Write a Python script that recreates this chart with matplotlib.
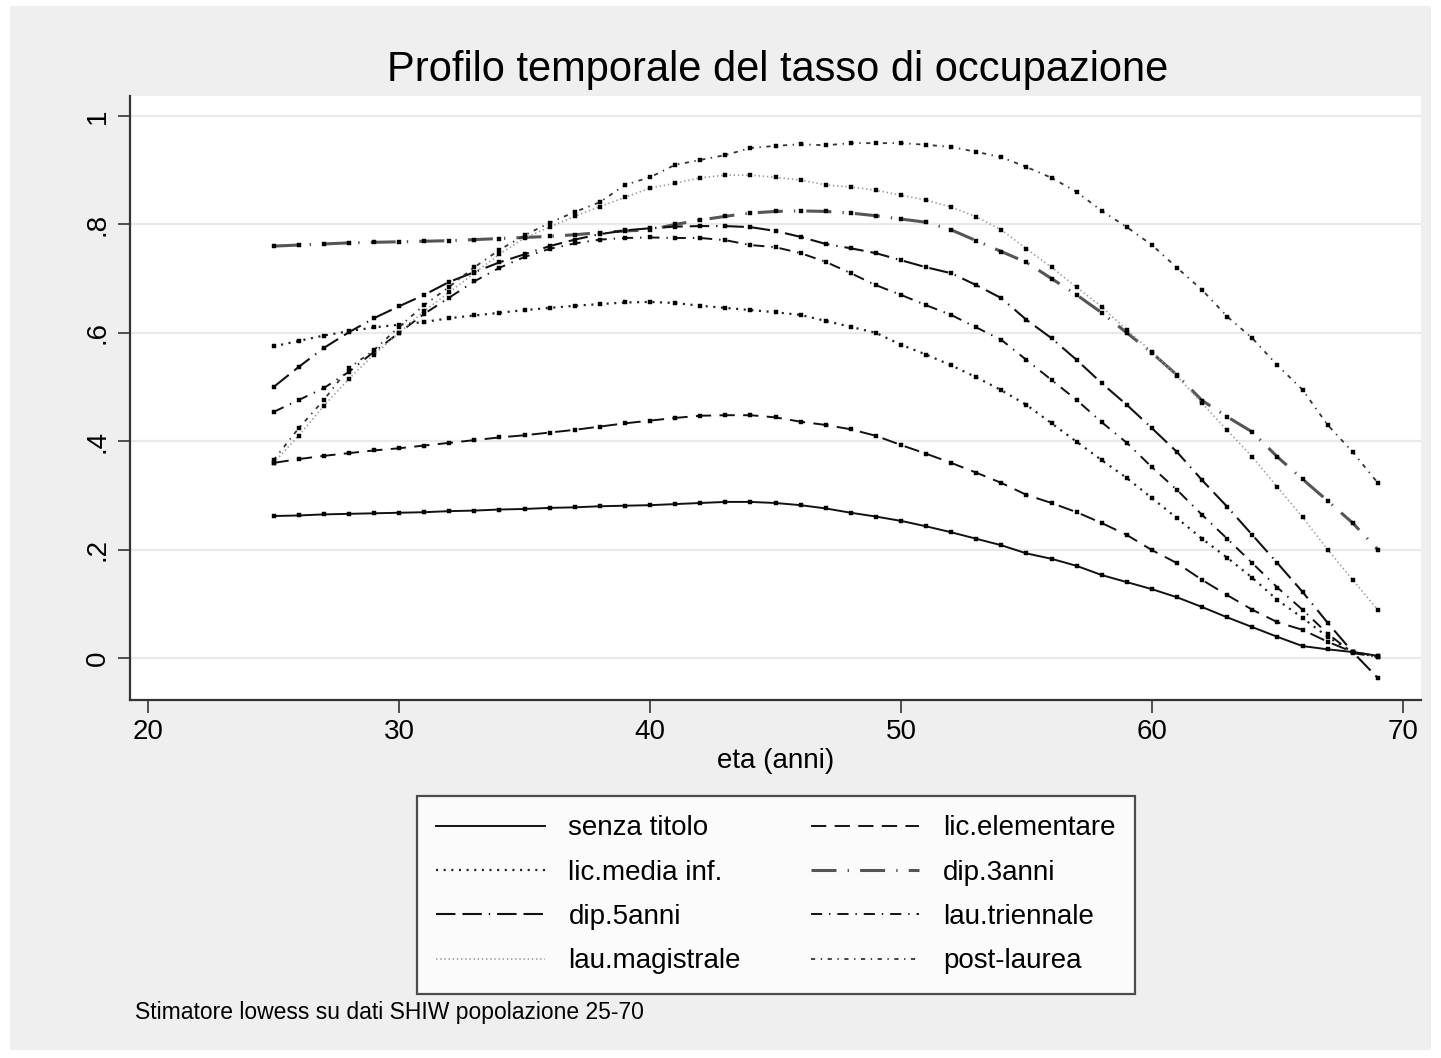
import matplotlib
matplotlib.use("Agg")
import matplotlib.pyplot as plt
from matplotlib.lines import Line2D
from matplotlib.patches import Rectangle

plt.rcParams['font.family'] = ['Liberation Sans', 'DejaVu Sans']
plt.rcParams['lines.scale_dashes'] = False

# eta (anni)
ages = list(range(25, 70))

senza_titolo = [.262, .263, .265, .266, .267, .268, .269, .271, .272, .274, .275, .277, .278, .280, .281,
                .282, .284, .286, .288, .288, .286, .282, .276, .268, .261, .253, .243, .232, .220, .208,
                .193, .183, .170, .153, .140, .127, .112, .094, .075, .057, .039, .022, .016, .011, .004]
lic_elementare = [.360, .367, .373, .378, .383, .387, .392, .397, .402, .407, .411, .416, .421, .427, .433,
                  .438, .443, .447, .448, .448, .444, .436, .430, .422, .410, .393, .377, .360, .342, .323,
                  .301, .286, .269, .249, .227, .199, .175, .144, .116, .089, .066, .052, .030, .011, .004]
lic_media = [.575, .585, .595, .603, .610, .615, .620, .627, .632, .637, .642, .646, .650, .653, .656,
             .657, .655, .650, .646, .642, .638, .633, .622, .611, .600, .578, .560, .540, .518, .494,
             .467, .433, .399, .365, .332, .295, .258, .220, .185, .148, .107, .074, .039, .011, .002]
dip_3anni = [.760, .762, .764, .766, .767, .768, .769, .770, .772, .774, .776, .778, .781, .785, .788,
             .790, .800, .808, .815, .821, .824, .825, .824, .821, .816, .810, .804, .790, .770, .750,
             .730, .700, .670, .637, .600, .563, .522, .475, .445, .417, .371, .330, .290, .249, .200]
dip_5anni = [.500, .537, .572, .601, .627, .649, .670, .694, .712, .730, .745, .760, .772, .782, .789,
             .793, .796, .797, .797, .795, .788, .777, .764, .756, .747, .734, .721, .710, .688, .664,
             .624, .590, .550, .507, .467, .424, .380, .328, .279, .227, .175, .122, .065, .011, -.037]
lau_triennale = [.454, .476, .498, .528, .565, .600, .635, .665, .695, .720, .740, .755, .765, .772, .775,
                 .776, .775, .775, .771, .762, .758, .747, .731, .710, .688, .670, .651, .633, .610, .587,
                 .550, .513, .476, .435, .397, .352, .310, .264, .220, .175, .130, .089, .045, .009, .002]
lau_magistrale = [.360, .410, .465, .515, .560, .600, .640, .675, .710, .745, .775, .795, .815, .833, .850,
                  .867, .876, .886, .891, .891, .887, .882, .873, .869, .863, .854, .845, .832, .814, .790,
                  .755, .721, .684, .648, .605, .565, .520, .470, .420, .371, .315, .260, .200, .144, .089]
post_laurea = [.365, .424, .476, .535, .568, .611, .651, .685, .721, .753, .780, .803, .823, .841, .873,
               .887, .910, .919, .928, .941, .945, .948, .946, .950, .950, .950, .947, .943, .934, .924,
               .906, .886, .860, .825, .795, .762, .720, .679, .630, .590, .540, .495, .430, .380, .323]

labels = ["senza titolo", "lic.elementare", "lic.media inf.", "dip.3anni",
          "dip.5anni", "lau.triennale", "lau.magistrale", "post-laurea"]
series = [senza_titolo, lic_elementare, lic_media, dip_3anni,
          dip_5anni, lau_triennale, lau_magistrale, post_laurea]

# line looks (Stata mono scheme)
styles = [
    dict(color="#111111", ls="-", lw=1.4),
    dict(color="#111111", ls=(0, (11, 6)), lw=1.4),
    dict(color="#222222", ls=(0, (1.5, 4)), lw=1.6),
    dict(color="#555555", ls=(0, (18, 8, 1, 8)), lw=2.2),
    dict(color="#111111", ls=(0, (14, 5, 14, 5, 1, 5)), lw=1.5),
    dict(color="#111111", ls=(0, (8, 5, 1, 5)), lw=1.4),
    dict(color="#999999", ls=(0, (1, 2)), lw=1.2),
    dict(color="#333333", ls=(0, (3, 4, 1, 4)), lw=1.3),
]

W, H = 1441, 1058
fig = plt.figure(figsize=(W / 100, H / 100), dpi=100, facecolor="white")
fig.patches.append(Rectangle((10 / W, 8 / H), 1 - 20 / W, 1 - 14 / H, transform=fig.transFigure,
                             facecolor="#efefef", edgecolor="none", zorder=-10))

ax = fig.add_axes([130 / W, 1 - 700 / H, (1421 - 130) / W, (700 - 96) / H])
ax.set_facecolor("white")

for vals, st in zip(series, styles):
    ax.plot(ages, vals, color=st["color"], linestyle=st["ls"], linewidth=st["lw"],
            marker="s", markersize=2.2, markerfacecolor="black", markeredgecolor="black",
            markeredgewidth=0.3)

ax.set_xlim(19.28, 70.72)
ax.set_ylim(-0.0775, 1.037)
ax.set_xticks([20, 30, 40, 50, 60, 70])
ax.set_yticks([0, .2, .4, .6, .8, 1])
ax.set_yticklabels(["0", ".2", ".4", ".6", ".8", "1"], rotation=90, va="center")
ax.tick_params(axis="both", labelsize=20, length=9, width=1.2, color="#333333", pad=5)
ax.grid(axis="y", color="#e9e9e9", linewidth=1.6)
ax.set_axisbelow(True)
for s in ["top", "right"]:
    ax.spines[s].set_visible(False)
for s in ["left", "bottom"]:
    ax.spines[s].set_color("#333333")
    ax.spines[s].set_linewidth(1.6)

ax.set_xlabel("eta (anni)", fontsize=20, labelpad=2)
fig.text(778 / W, 1 - 70 / H, "Profilo temporale del tasso di occupazione",
         fontsize=30, ha="center", va="center")

# legend filled row by row, as in the original
order = [0, 2, 4, 6, 1, 3, 5, 7]
handles = [Line2D([], [], color=styles[i]["color"], linestyle=styles[i]["ls"],
                  linewidth=styles[i]["lw"]) for i in order]
leg = fig.legend(handles, [labels[i] for i in order], ncol=2, loc="upper left",
                 bbox_to_anchor=(417 / W, 1 - 797 / H, (1135 - 417) / W, 0.001),
                 mode="expand", fontsize=20, handlelength=3.9, handletextpad=0.85,
                 labelspacing=0.66, borderpad=0.7, borderaxespad=0.0,
                 fancybox=False, frameon=True)
leg.get_frame().set_edgecolor("#222222")
leg.get_frame().set_linewidth(1.6)
leg.get_frame().set_facecolor("white")

fig.text(135 / W, 1 - 1012 / H, "Stimatore lowess su dati SHIW popolazione 25-70",
         fontsize=16.5, ha="left", va="center")

fig.savefig("out.png", dpi=100, facecolor=fig.get_facecolor())
